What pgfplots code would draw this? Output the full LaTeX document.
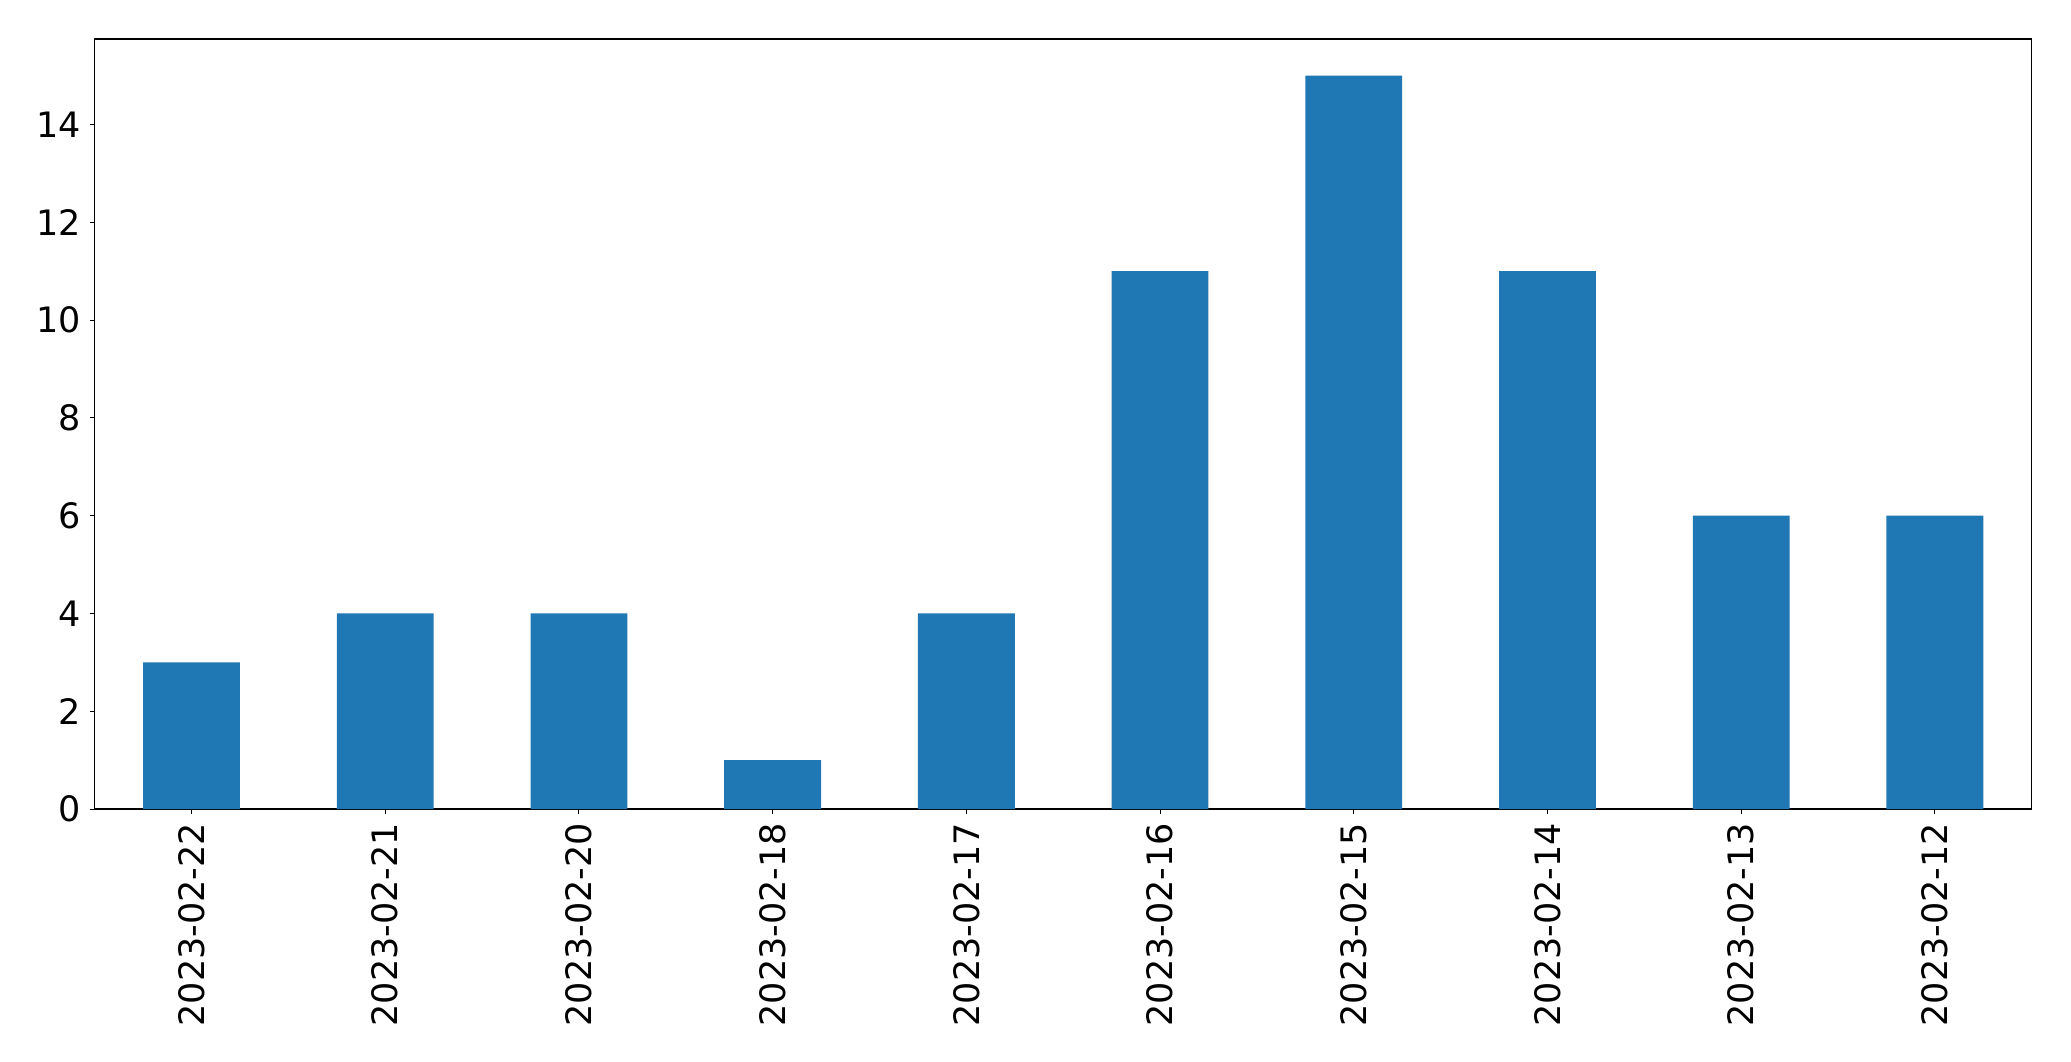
\documentclass[border=0pt]{standalone}
\usepackage{pgfplots}
\pgfplotsset{compat=1.18}
\usepackage{fontspec}
\setmainfont{DejaVu Sans}
\definecolor{mplblue}{HTML}{1F77B4}
\begin{document}
\fontsize{17.5}{21}\selectfont
\begin{tikzpicture}
\useasboundingbox (-47.35pt,-126pt) rectangle (988.15pt,404.5pt);
\begin{axis}[
  at={(0,0)}, anchor=south west,
  scale only axis,
  width=968.5pt, height=385pt,
  xmin=-0.5, xmax=9.5,
  ymin=0, ymax=15.75,
  xtick={0,...,9},
  xticklabels={2023-02-22,2023-02-21,2023-02-20,2023-02-18,2023-02-17,2023-02-16,2023-02-15,2023-02-14,2023-02-13,2023-02-12},
  ytick={0,2,...,14},
  x tick label style={rotate=90, anchor=east},
  xticklabel shift=-1.5pt,
  yticklabel shift=-1.5pt,
  tick align=outside,
  major tick length=2.5pt,
  tick style={black, line width=0.5pt},
  xtick pos=bottom, ytick pos=left,
  axis line style={line width=0.55pt},
  /pgf/number format/assume math mode=true,
  tick label style={font=\fontsize{17.5}{21}\selectfont},
  ybar, bar width=0.5,
]
\addplot[fill=mplblue, draw=none] coordinates {
(0,3) (1,4) (2,4) (3,1) (4,4) (5,11) (6,15) (7,11) (8,6) (9,6)
};
\end{axis}
\end{tikzpicture}
\end{document}
